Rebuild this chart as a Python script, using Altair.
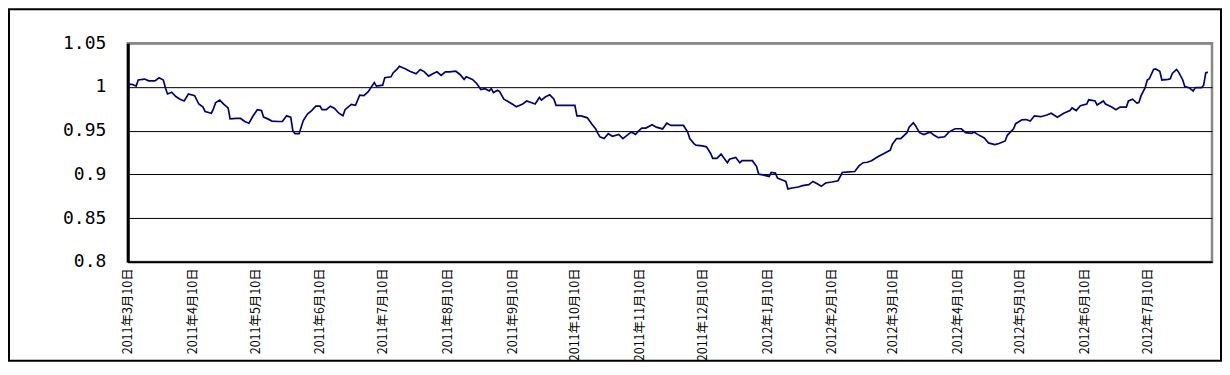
import altair as alt
import pandas as pd

dates = [
    "2011-03-10", "2011-03-12", "2011-03-14", "2011-03-15", "2011-03-18", "2011-03-20", "2011-03-23", "2011-03-25", "2011-03-27", "2011-03-28", "2011-03-29", "2011-03-31",
    "2011-04-02", "2011-04-04", "2011-04-06", "2011-04-08", "2011-04-11", "2011-04-13", "2011-04-15", "2011-04-16", "2011-04-19", "2011-04-20", "2011-04-21", "2011-04-23", "2011-04-25", "2011-04-27", "2011-04-28",
    "2011-05-01", "2011-05-03", "2011-05-05", "2011-05-07", "2011-05-09", "2011-05-11", "2011-05-13", "2011-05-14", "2011-05-16", "2011-05-18", "2011-05-21", "2011-05-23", "2011-05-25", "2011-05-27", "2011-05-28", "2011-05-29", "2011-05-31",
    "2011-06-02", "2011-06-04", "2011-06-06", "2011-06-08", "2011-06-10", "2011-06-11", "2011-06-13", "2011-06-15", "2011-06-17", "2011-06-19", "2011-06-21", "2011-06-22", "2011-06-25", "2011-06-27", "2011-06-29",
    "2011-07-01", "2011-07-03", "2011-07-06", "2011-07-07", "2011-07-10", "2011-07-11", "2011-07-14", "2011-07-15", "2011-07-17", "2011-07-18", "2011-07-21", "2011-07-23", "2011-07-26", "2011-07-28", "2011-07-30",
    "2011-08-01", "2011-08-03", "2011-08-05", "2011-08-07", "2011-08-09", "2011-08-11", "2011-08-14", "2011-08-16", "2011-08-18", "2011-08-19", "2011-08-22", "2011-08-24", "2011-08-26", "2011-08-28", "2011-08-30", "2011-08-31",
    "2011-09-01", "2011-09-03", "2011-09-04", "2011-09-06", "2011-09-08", "2011-09-10", "2011-09-12", "2011-09-15", "2011-09-17", "2011-09-19", "2011-09-21", "2011-09-23", "2011-09-24", "2011-09-26", "2011-09-28", "2011-09-30",
    "2011-10-01", "2011-10-04", "2011-10-08", "2011-10-10", "2011-10-11", "2011-10-13", "2011-10-16", "2011-10-18", "2011-10-20", "2011-10-21", "2011-10-22", "2011-10-24", "2011-10-26", "2011-10-28", "2011-10-31",
    "2011-11-02", "2011-11-05", "2011-11-06", "2011-11-08", "2011-11-09", "2011-11-11", "2011-11-13", "2011-11-16", "2011-11-18", "2011-11-21", "2011-11-23", "2011-11-25", "2011-11-28",
    "2011-12-01", "2011-12-03", "2011-12-04", "2011-12-06", "2011-12-07", "2011-12-10", "2011-12-12", "2011-12-14", "2011-12-15", "2011-12-17", "2011-12-19", "2011-12-22", "2011-12-23", "2011-12-26", "2011-12-28", "2011-12-29", "2011-12-31",
    "2012-01-03", "2012-01-05", "2012-01-06", "2012-01-08", "2012-01-11", "2012-01-12", "2012-01-14", "2012-01-15", "2012-01-17", "2012-01-19", "2012-01-20", "2012-01-22", "2012-01-25", "2012-01-27", "2012-01-30",
    "2012-02-01", "2012-02-03", "2012-02-05", "2012-02-07", "2012-02-10", "2012-02-13", "2012-02-15", "2012-02-17", "2012-02-21", "2012-02-23", "2012-02-25", "2012-02-27", "2012-02-29",
    "2012-03-03", "2012-03-06", "2012-03-09", "2012-03-10", "2012-03-12", "2012-03-14", "2012-03-17", "2012-03-18", "2012-03-20", "2012-03-21", "2012-03-23", "2012-03-25", "2012-03-28", "2012-03-30",
    "2012-04-01", "2012-04-04", "2012-04-06", "2012-04-09", "2012-04-12", "2012-04-14", "2012-04-17", "2012-04-18", "2012-04-20", "2012-04-23", "2012-04-25", "2012-04-28", "2012-04-30",
    "2012-05-03", "2012-05-04", "2012-05-07", "2012-05-08", "2012-05-11", "2012-05-13", "2012-05-15", "2012-05-17", "2012-05-20", "2012-05-23", "2012-05-25", "2012-05-28", "2012-05-31",
    "2012-06-03", "2012-06-04", "2012-06-06", "2012-06-08", "2012-06-11", "2012-06-12", "2012-06-15", "2012-06-16", "2012-06-19", "2012-06-20", "2012-06-23", "2012-06-25", "2012-06-27", "2012-06-30",
    "2012-07-01", "2012-07-03", "2012-07-05", "2012-07-06", "2012-07-07", "2012-07-09", "2012-07-10", "2012-07-11", "2012-07-13", "2012-07-14", "2012-07-16", "2012-07-17", "2012-07-20", "2012-07-21", "2012-07-22", "2012-07-24", "2012-07-25", "2012-07-27", "2012-07-28", "2012-07-30",
    "2012-08-01", "2012-08-02", "2012-08-05", "2012-08-06", "2012-08-07", "2012-08-08",
]

values = [
    1.003, 1.003, 1.001, 1.008, 1.009, 1.007, 1.007, 1.0105, 1.008, 0.999, 0.992, 0.994,
    0.989, 0.986, 0.984, 0.992, 0.990, 0.9805, 0.977, 0.972, 0.970, 0.975, 0.982, 0.985, 0.980, 0.976, 0.9635,
    0.964, 0.964, 0.9605, 0.9585, 0.967, 0.974, 0.973, 0.9655, 0.9635, 0.961, 0.9605, 0.9605, 0.967, 0.9655, 0.950, 0.9466, 0.9466,
    0.9616, 0.969, 0.973, 0.978, 0.978, 0.974, 0.974, 0.978, 0.9755, 0.970, 0.967, 0.974, 0.980, 0.979, 0.9906,
    0.990, 0.9944, 1.005, 1.001, 1.002, 1.0105, 1.0116, 1.016, 1.0206, 1.0237, 1.0206, 1.018, 1.015, 1.020, 1.0173,
    1.0124, 1.015, 1.0173, 1.0132, 1.0173, 1.0173, 1.018, 1.0143, 1.0087, 1.0116, 1.0087, 1.004, 0.997, 0.998, 0.9955, 0.998,
    0.9936, 0.9963, 0.9947, 0.986, 0.9834, 0.9805, 0.9774, 0.9805, 0.984, 0.9823, 0.9805, 0.988, 0.985, 0.9887, 0.991, 0.986,
    0.979, 0.979, 0.979, 0.979, 0.967, 0.967, 0.9647, 0.958, 0.952, 0.947, 0.943, 0.941, 0.9466, 0.9436, 0.9458,
    0.941, 0.9466, 0.9484, 0.9458, 0.9484, 0.953, 0.953, 0.9568, 0.954, 0.952, 0.9586, 0.956, 0.956,
    0.956, 0.9484, 0.941, 0.9353, 0.9334, 0.9326, 0.9315, 0.924, 0.9184, 0.9184, 0.9233, 0.9134, 0.9173, 0.9195, 0.9134, 0.9157, 0.9157,
    0.9157, 0.909, 0.9003, 0.8995, 0.8977, 0.9022, 0.9015, 0.8958, 0.894, 0.892, 0.8834, 0.8845, 0.8856, 0.8871, 0.8883,
    0.892, 0.8894, 0.8864, 0.8902, 0.8913, 0.8928, 0.9022, 0.9026, 0.9033, 0.9097, 0.9134, 0.9139, 0.9157,
    0.9202, 0.924, 0.9278, 0.9345, 0.941, 0.941, 0.9477, 0.9541, 0.959, 0.956, 0.9477, 0.9455, 0.9484, 0.9447,
    0.942, 0.943, 0.9484, 0.9522, 0.9522, 0.9477, 0.947, 0.9484, 0.9455, 0.9417, 0.936, 0.934, 0.9353,
    0.9383, 0.9447, 0.9522, 0.958, 0.9624, 0.9628, 0.961, 0.967, 0.966, 0.968, 0.970, 0.9655, 0.970,
    0.973, 0.976, 0.973, 0.9786, 0.9805, 0.9853, 0.984, 0.9794, 0.984, 0.9805, 0.977, 0.974, 0.977, 0.977,
    0.984, 0.986, 0.9816, 0.9823, 0.9898, 0.9992, 1.008, 1.0094, 1.020, 1.0206, 1.018, 1.008, 1.0087, 1.0094, 1.0155, 1.020, 1.017, 1.008, 1.0003, 0.9992,
    0.9955, 0.9992, 0.9992, 1.002, 1.016, 1.017,
]

tick_dates = [
    "2011-03-10", "2011-04-10", "2011-05-10", "2011-06-10", "2011-07-10", "2011-08-10",
    "2011-09-10", "2011-10-10", "2011-11-10", "2011-12-10", "2012-01-10", "2012-02-10",
    "2012-03-10", "2012-04-10", "2012-05-10", "2012-06-10", "2012-07-10",
]
x_domain = ["2011-03-10", "2012-08-10"]
y_ticks = [0.8, 0.85, 0.9, 0.95, 1.0, 1.05]

assert len(dates) == len(values)


def ms(s):
    return int(pd.Timestamp(s, tz="UTC").value // 10**6)


df = pd.DataFrame({"date": dates, "value": values})

W, H = 1086, 219
PAD = {"left": 120, "top": 35, "right": 10, "bottom": 101}

line = alt.Chart(df).mark_line(color="#000080", strokeWidth=1.7, interpolate="linear").encode(
    x=alt.X(
        "date:T",
        scale=alt.Scale(type="utc", domain=[ms(d) for d in x_domain], nice=False),
        axis=alt.Axis(
            values=[ms(d) for d in tick_dates],
            labelExpr="utcyear(datum.value) + '年' + (utcmonth(datum.value) + 1) + '月' + utcdate(datum.value) + '日'",
            labelAngle=270,
            labelAlign="right",
            labelBaseline="middle",
            labelPadding=6,
            labelFont="Noto Sans CJK JP",
            labelFontSize=12.5,
            labelColor="black",
            labelOverlap=False,
            labelFlush=False,
            labelBound=False,
            ticks=False,
            domain=True,
            domainColor="black",
            domainWidth=2,
            grid=False,
            title=None,
        ),
    ),
    y=alt.Y(
        "value:Q",
        scale=alt.Scale(domain=[0.8, 1.05], nice=False, zero=False),
        axis=alt.Axis(
            values=y_ticks,
            format="~g",
            labelFont="DejaVu Sans Mono",
            labelFontSize=18,
            labelColor="black",
            labelPadding=22,
            ticks=False,
            domain=True,
            domainColor="black",
            domainWidth=3,
            grid=True,
            gridColor=alt.condition("datum.value >= 1.04", alt.value("#888888"), alt.value("black")),
            gridWidth=alt.condition("datum.value >= 1.04", alt.value(2), alt.value(1)),
            title=None,
        ),
    ),
)

frame = alt.Chart(pd.DataFrame({"k": [0]})).mark_rect(
    fill=None, filled=False, stroke="black", strokeWidth=2
).encode(
    x=alt.value(-119),
    x2=alt.value(W + PAD["right"] - 1),
    y=alt.value(-34),
    y2=alt.value(H + PAD["bottom"] - 2),
)

chart = alt.layer(line, frame).properties(
    width=W,
    height=H,
    padding=PAD,
    autosize=alt.AutoSizeParams(type="none"),
    background="white",
).configure_view(
    stroke="#888888",
    strokeWidth=2.5,
)

chart.save("out.html", embed_options={"renderer": "svg", "actions": False})
